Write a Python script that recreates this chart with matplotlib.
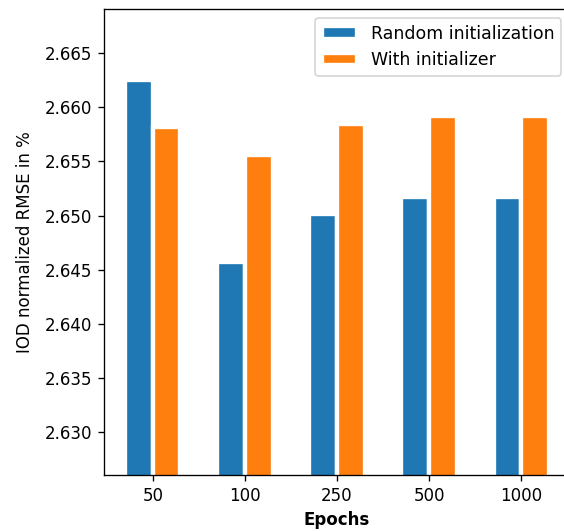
import numpy as np
import matplotlib
matplotlib.use("Agg")
import matplotlib.pyplot as plt

epochs = ["50", "100", "250", "500", "1000"]
random_init = [2.6625, 2.6457, 2.6501, 2.6517, 2.6517]
with_init = [2.6582, 2.6556, 2.6585, 2.6592, 2.6592]

fig = plt.figure(figsize=(4.7, 4.425), dpi=120)
ax = fig.add_axes([104 / 564, 1 - 475 / 531, (570 - 104) / 564, (475 - 9) / 531])

x = np.arange(len(epochs))
width = 0.3
ax.bar(x - width / 2, random_init, width, color="#1f77b4", edgecolor="white",
       linewidth=2.6, label="Random initialization")
ax.bar(x + width / 2, with_init, width, color="#ff7f0e", edgecolor="white",
       linewidth=2.6, label="With initializer")

ax.set_xticks(x)
ax.set_xticklabels(epochs)
ax.set_ylim(2.626, 2.6691)
ax.set_yticks([2.630, 2.635, 2.640, 2.645, 2.650, 2.655, 2.660, 2.665])
ax.set_xlabel("Epochs", fontweight="bold")
ax.set_ylabel("IOD normalized RMSE in %", labelpad=6.5)
ax.spines["right"].set_visible(False)
ax.legend(loc="upper right", fontsize=10.4)

fig.savefig("out.png", dpi=120)
